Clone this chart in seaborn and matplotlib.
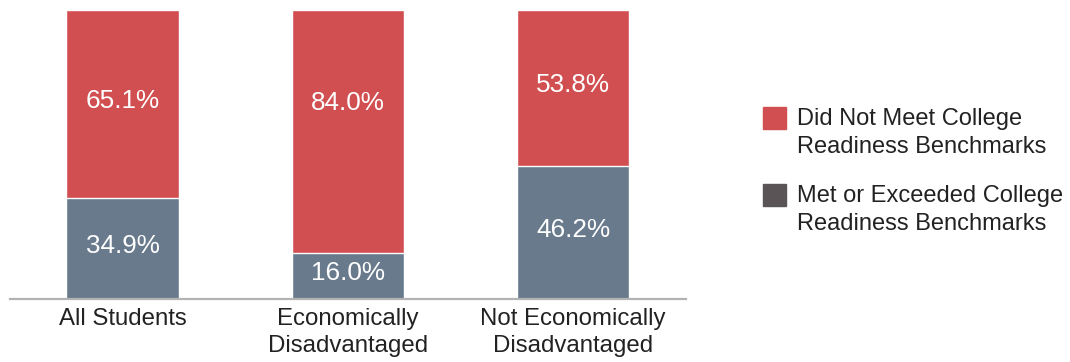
import matplotlib
matplotlib.use("Agg")
import matplotlib.pyplot as plt
from matplotlib.patches import Rectangle
import pandas as pd
import seaborn as sns

# Student groups and benchmark results (percent of students)
groups = ["All Students", "Economically\nDisadvantaged", "Not Economically\nDisadvantaged"]
did_not_meet = [65.1, 84.0, 53.8]
met_or_exceeded = [34.9, 16.0, 46.2]
legend_labels = ["Did Not Meet College\nReadiness Benchmarks",
                 "Met or Exceeded College\nReadiness Benchmarks"]

RED = "#d14f50"
SLATE = "#687a8c"
LEGEND_DARK = "#5a5456"
TEXT = "#222222"

sns.set_theme(style="white")
plt.rcParams["font.family"] = ["Liberation Sans", "DejaVu Sans"]

df = pd.DataFrame({
    "group": groups,
    "not_met": did_not_meet,
    "met": met_or_exceeded,
})
df["total"] = df["not_met"] + df["met"]

fig = plt.figure(figsize=(10.70, 3.62), dpi=100)
ax = fig.add_axes([0.00935, 0.174, 0.6315, 0.798])

# Stacked bars: full stack in red, then the "met" part drawn on top
sns.barplot(data=df, x="group", y="total", color=RED, width=0.5,
            saturation=1, ax=ax)
sns.barplot(data=df, x="group", y="met", color=SLATE, width=0.5,
            saturation=1, ax=ax)

# Value labels in each segment; upper labels sit no lower than the upper third
for i, (nm, m) in enumerate(zip(did_not_meet, met_or_exceeded)):
    y_top = max(m + nm / 2, 67.0)
    ax.annotate(f"{nm:.1f}%", (i, y_top), xytext=(0, 2), textcoords="offset points",
                ha="center", va="center", color="white", fontsize=18.8)
    ax.annotate(f"{m:.1f}%", (i, m / 2), xytext=(0, 2), textcoords="offset points",
                ha="center", va="center", color="white", fontsize=18.8)

ax.set_xlim(-0.5, 2.5)
ax.set_ylim(0, 100)
ax.set_xlabel("")
ax.set_ylabel("")
ax.set_yticks([])
ax.tick_params(axis="x", length=0, pad=6.5, labelsize=17.3, labelcolor=TEXT)
for lbl in ax.get_xticklabels():
    lbl.set_linespacing(1.28)
for side in ("top", "right", "left"):
    ax.spines[side].set_visible(False)
ax.spines["bottom"].set_color("#b3b3b3")
ax.spines["bottom"].set_linewidth(1.6)

# Legend drawn beside the chart, swatch aligned with the first text line
W, H = 1070, 362
swatches = [RED, LEGEND_DARK]
tops = [107, 184]
for color, label, top in zip(swatches, legend_labels, tops):
    fig.patches.append(Rectangle((763 / W, 1 - (top + 22) / H), 23 / W, 22 / H,
                                 transform=fig.transFigure, color=color))
    fig.text(797 / W, 1 - (top + 1) / H, label, ha="left", va="top",
             fontsize=17, color=TEXT, linespacing=1.36)

fig.savefig("out.png", dpi=100)
